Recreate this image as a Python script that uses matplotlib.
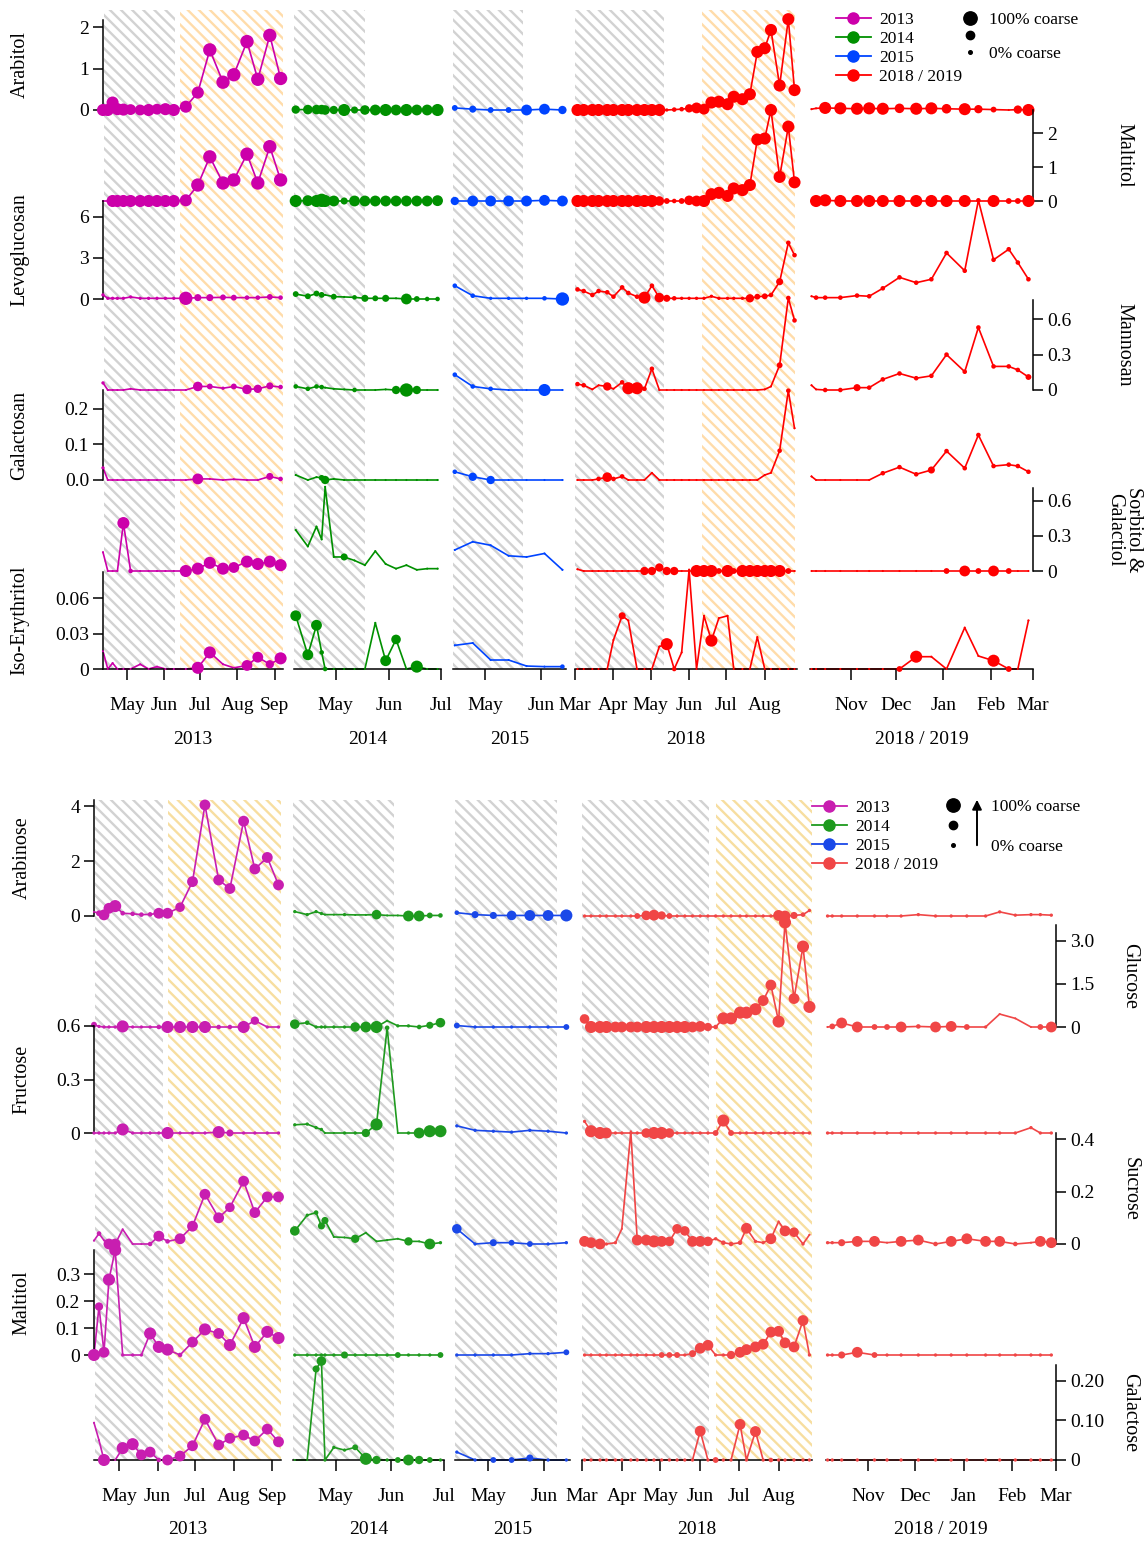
import numpy as np
import matplotlib
matplotlib.use('Agg')
import matplotlib.pyplot as plt
import matplotlib.dates as mdates
from matplotlib.lines import Line2D

plt.rcParams['font.family'] = ['Liberation Serif', 'DejaVu Serif']
plt.rcParams['hatch.linewidth'] = 1.7

W, H = 1147, 1544

# ---------------- sampling dates ----------------
dates = {
    '2013': ['2013-04-11', '2013-04-15', '2013-04-19', '2013-04-23', '2013-04-28', '2013-05-04',
             '2013-05-12', '2013-05-19', '2013-05-26', '2013-06-02', '2013-06-09', '2013-06-19',
             '2013-06-29', '2013-07-09', '2013-07-20', '2013-07-29', '2013-08-09', '2013-08-18',
             '2013-08-28', '2013-09-06'],
    '2014': ['2014-04-08', '2014-04-15', '2014-04-20', '2014-04-23', '2014-04-25', '2014-04-30',
             '2014-05-06', '2014-05-12', '2014-05-18', '2014-05-24', '2014-05-30', '2014-06-05',
             '2014-06-11', '2014-06-17', '2014-06-23', '2014-06-29'],
    '2015': ['2015-04-14', '2015-04-24', '2015-05-04', '2015-05-14', '2015-05-24', '2015-06-03',
             '2015-06-13'],
    '2018': ['2018-03-03', '2018-03-08', '2018-03-15', '2018-03-20', '2018-03-27', '2018-04-01',
             '2018-04-08', '2018-04-13', '2018-04-20', '2018-04-26', '2018-05-02', '2018-05-08',
             '2018-05-14', '2018-05-20', '2018-05-26', '2018-06-01', '2018-06-07', '2018-06-13',
             '2018-06-19', '2018-06-25', '2018-07-02', '2018-07-07', '2018-07-14', '2018-07-20',
             '2018-07-26', '2018-08-01', '2018-08-06', '2018-08-13', '2018-08-20', '2018-08-25'],
    '2019': ['2018-10-06', '2018-10-09', '2018-10-15', '2018-10-25', '2018-11-05', '2018-11-13',
             '2018-11-22', '2018-12-03', '2018-12-14', '2018-12-24', '2019-01-03', '2019-01-15',
             '2019-01-24', '2019-02-03', '2019-02-13', '2019-02-19', '2019-02-26'],
}
xlims = {'2013': ('2013-04-11', '2013-09-08'), '2014': ('2014-04-07', '2014-07-01'),
         '2015': ('2015-04-13', '2015-06-15'), '2018': ('2018-03-01', '2018-08-27'),
         '2019': ('2018-10-05', '2019-03-01')}
year_names = {'2013': '2013', '2014': '2014', '2015': '2015', '2018': '2018', '2019': '2018 / 2019'}

# ---------------- top panel: values (ug/m3) and coarse fraction (0-9) ----------------
arabitol = {
    '2013': [0.0, 0.0, 0.18, 0.02, 0.01, 0.01, 0.0, 0.0, 0.02, 0.02, 0.0, 0.08, 0.42, 1.45, 0.67, 0.85, 1.65, 0.74, 1.8, 0.76],
    '2014': [0.01, 0.01, 0.01, 0.01, 0.0, 0.0, 0.0, 0.0, 0.0, 0.0, 0.0, 0.0, 0.0, 0.0, 0.0, 0.0],
    '2015': [0.05, 0.02, 0.0, 0.0, 0.0, 0.02, 0.0],
    '2018': [0.0, 0.0, 0.0, 0.0, 0.0, 0.0, 0.0, 0.0, 0.0, 0.0, 0.0, 0.0, 0.0, 0.01, 0.02, 0.04, 0.05, 0.02, 0.18, 0.2,
             0.14, 0.32, 0.26, 0.38, 1.4, 1.49, 1.93, 0.59, 2.19, 0.48],
    '2019': [0.02, 0.04, 0.05, 0.04, 0.03, 0.04, 0.03, 0.04, 0.03, 0.04, 0.03, 0.02, 0.02, 0.01, 0.0, 0.01, 0.0],
}
arabitol_c = {
    '2013': [8, 8, 8, 8, 8, 7, 7, 8, 7, 8, 8, 8, 8, 9, 9, 9, 9, 9, 9, 9],
    '2014': [5, 6, 6, 6, 6, 5, 8, 4, 6, 7, 8, 7, 8, 7, 7, 8],
    '2015': [3, 4, 3, 3, 7, 7, 5],
    '2018': [8, 8, 8, 8, 8, 8, 8, 8, 8, 8, 8, 8, 1, 2, 2, 5, 7, 7, 8, 8, 8, 8, 8, 8, 8, 8, 8, 8, 8, 8],
    '2019': [0, 0, 8, 8, 8, 8, 8, 6, 8, 8, 6, 8, 5, 3, 0, 5, 8],
}
maltitol = {
    '2013': [0.0, 0.0, 0.0, 0.0, 0.0, 0.0, 0.0, 0.0, 0.0, 0.0, 0.0, 0.02, 0.47, 1.3, 0.53, 0.62, 1.38, 0.53, 1.6, 0.62],
    '2014': [0.0, 0.01, 0.0, 0.02, 0.0, 0.0, 0.0, 0.0, 0.0, 0.0, 0.0, 0.0, 0.0, 0.0, 0.0, 0.01],
    '2015': [0.0, 0.0, 0.0, 0.0, 0.0, 0.02, 0.0],
    '2018': [0.0, 0.0, 0.0, 0.0, 0.0, 0.0, 0.0, 0.0, 0.0, 0.0, 0.0, 0.0, 0.0, 0.0, 0.0, 0.02, 0.0, 0.0, 0.2, 0.24,
             0.15, 0.37, 0.32, 0.47, 1.81, 1.84, 2.68, 0.71, 2.19, 0.55],
    '2019': [0.0, 0.0, 0.02, 0.0, 0.0, 0.0, 0.0, 0.0, 0.0, 0.0, 0.0, 0.0, 0.0, 0.0, 0.0, 0.0, 0.0],
}
maltitol_c = {
    '2013': [0, 0, 8, 8, 8, 8, 8, 8, 8, 8, 8, 8, 9, 9, 9, 9, 9, 9, 9, 9],
    '2014': [8, 7, 8, 9, 8, 7, 4, 7, 7, 7, 7, 7, 7, 7, 7, 7],
    '2015': [5, 7, 7, 7, 7, 7, 7],
    '2018': [8, 8, 8, 8, 8, 8, 8, 8, 8, 8, 8, 6, 3, 2, 3, 6, 7, 8, 8, 8, 8, 8, 8, 8, 8, 8, 8, 8, 8, 8],
    '2019': [0, 8, 8, 8, 8, 8, 8, 8, 8, 8, 8, 8, 1, 8, 3, 3, 8],
}
levoglucosan = {
    '2013': [0.3, 0.05, 0.05, 0.05, 0.05, 0.15, 0.05, 0.05, 0.05, 0.05, 0.05, 0.05, 0.1, 0.1, 0.12, 0.1, 0.1, 0.1, 0.15, 0.1],
    '2014': [0.36, 0.2, 0.4, 0.3, 0.3, 0.17, 0.15, 0.12, 0.05, 0.05, 0.05, 0.05, 0.0, 0.0, 0.0, 0.0],
    '2015': [0.97, 0.24, 0.05, 0.05, 0.05, 0.05, 0.0],
    '2018': [0.7, 0.58, 0.29, 0.58, 0.49, 0.17, 0.85, 0.44, 0.17, 0.1, 0.97, 0.1, 0.05, 0.05, 0.05, 0.05, 0.05, 0.05,
             0.2, 0.05, 0.05, 0.05, 0.05, 0.05, 0.17, 0.2, 0.29, 1.26, 4.1, 3.2],
    '2019': [0.2, 0.1, 0.1, 0.1, 0.25, 0.2, 0.78, 1.58, 1.19, 1.44, 3.36, 2.06, 7.2, 2.86, 3.63, 2.66, 1.44],
}
levoglucosan_c = {
    '2013': [1, 1, 1, 1, 1, 1, 1, 1, 1, 1, 1, 9, 4, 4, 3, 3, 2, 2, 3, 2],
    '2014': [3, 3, 3, 3, 0, 3, 0, 2, 4, 3, 4, 0, 7, 3, 2, 2],
    '2015': [2, 2, 1, 1, 1, 2, 9],
    '2018': [2, 2, 2, 2, 2, 2, 2, 2, 2, 8, 2, 6, 4, 2, 1, 1, 1, 1, 1, 1, 1, 1, 1, 5, 3, 3, 2, 4, 2, 2],
    '2019': [0, 2, 2, 2, 2, 2, 2, 2, 2, 2, 2, 2, 2, 2, 2, 2, 2],
}
mannosan = {
    '2013': [0.06, 0.0, 0.0, 0.0, 0.0, 0.01, 0.0, 0.0, 0.0, 0.0, 0.0, 0.0, 0.03, 0.03, 0.015, 0.03, 0.005, 0.01, 0.035, 0.025],
    '2014': [0.03, 0.01, 0.03, 0.025, 0.02, 0.01, 0.005, 0.0, 0.0, 0.0, 0.005, 0.0, 0.0, 0.0, 0.0, 0.0],
    '2015': [0.13, 0.03, 0.01, 0.0, 0.0, 0.0, 0.0],
    '2018': [0.05, 0.04, 0.005, 0.04, 0.03, 0.01, 0.065, 0.015, 0.015, 0.01, 0.18, 0.0, 0.0, 0.0, 0.0, 0.0, 0.0, 0.0,
             0.0, 0.0, 0.0, 0.0, 0.0, 0.0, 0.0, 0.005, 0.03, 0.21, 0.78, 0.59],
    '2019': [0.04, 0.005, 0.0, 0.0, 0.02, 0.02, 0.09, 0.14, 0.1, 0.12, 0.3, 0.155, 0.53, 0.2, 0.2, 0.17, 0.11],
}
mannosan_c = {
    '2013': [1, 0, 0, 0, 0, 0, 0, 0, 0, 0, 0, 0, 6, 3, 1, 3, 6, 5, 4, 2],
    '2014': [2, 2, 2, 2, 0, 0, 0, 2, 0, 0, 0, 5, 9, 5, 0, 0],
    '2015': [2, 2, 2, 0, 0, 8, 0],
    '2018': [2, 2, 0, 0, 5, 0, 2, 8, 8, 2, 2, 0, 0, 0, 0, 0, 0, 0, 0, 0, 0, 0, 0, 0, 0, 0, 0, 3, 2, 2],
    '2019': [0, 0, 2, 2, 4, 2, 2, 2, 2, 2, 2, 2, 2, 2, 2, 2, 3],
}
galactosan = {
    '2013': [0.034, 0.0, 0.0, 0.0, 0.0, 0.0, 0.0, 0.0, 0.0, 0.0, 0.0, 0.0, 0.003, 0.003, 0.0, 0.002, 0.0, 0.0, 0.01, 0.003],
    '2014': [0.014, 0.0, 0.008, 0.006, 0.0, 0.003, 0.0, 0.0, 0.0, 0.0, 0.0, 0.0, 0.0, 0.0, 0.0, 0.0],
    '2015': [0.023, 0.009, 0.0, 0.0, 0.0, 0.0, 0.0],
    '2018': [0.0, 0.0, 0.0, 0.003, 0.008, 0.003, 0.01, 0.0, 0.0, 0.0, 0.02, 0.0, 0.0, 0.0, 0.0, 0.0, 0.0, 0.0,
             0.0, 0.0, 0.0, 0.0, 0.0, 0.0, 0.0, 0.014, 0.02, 0.082, 0.25, 0.145],
    '2019': [0.01, 0.0, 0.0, 0.0, 0.0, 0.0, 0.019, 0.036, 0.016, 0.028, 0.081, 0.033, 0.126, 0.039, 0.043, 0.039, 0.023],
}
galactosan_c = {
    '2013': [1, 0, 0, 0, 0, 0, 0, 0, 0, 0, 0, 0, 7, 0, 0, 0, 0, 0, 4, 2],
    '2014': [0, 0, 0, 3, 5, 0, 0, 0, 0, 0, 0, 0, 0, 0, 0, 0],
    '2015': [2, 5, 5, 0, 0, 0, 0],
    '2018': [0, 0, 0, 2, 6, 2, 2, 0, 0, 0, 0, 0, 0, 0, 0, 0, 0, 0, 0, 0, 0, 0, 0, 0, 0, 0, 0, 2, 2, 0],
    '2019': [0, 0, 0, 0, 0, 0, 2, 2, 2, 4, 2, 2, 2, 2, 2, 2, 2],
}
sorbitol = {
    '2013': [0.16, 0.0, 0.0, 0.0, 0.41, 0.0, 0.0, 0.0, 0.0, 0.0, 0.0, 0.0, 0.02, 0.07, 0.02, 0.03, 0.08, 0.06, 0.08, 0.05],
    '2014': [0.35, 0.21, 0.38, 0.27, 0.72, 0.12, 0.12, 0.09, 0.05, 0.17, 0.06, 0.02, 0.05, 0.01, 0.02, 0.02],
    '2015': [0.18, 0.25, 0.22, 0.13, 0.12, 0.15, 0.01],
    '2018': [0.015, 0.0, 0.0, 0.0, 0.0, 0.0, 0.0, 0.0, 0.0, 0.0, 0.0, 0.03, 0.0, 0.0, 0.0, 0.0, 0.0, 0.0,
             0.0, 0.0, 0.0, 0.0, 0.0, 0.0, 0.0, 0.0, 0.0, 0.0, 0.0, 0.0],
    '2019': [0.0, 0.0, 0.0, 0.0, 0.0, 0.0, 0.0, 0.0, 0.0, 0.0, 0.0, 0.0, 0.0, 0.0, 0.0, 0.0, 0.0],
}
sorbitol_c = {
    '2013': [0, 0, 0, 0, 8, 2, 0, 0, 0, 0, 0, 8, 8, 8, 8, 7, 8, 8, 8, 8],
    '2014': [0, 0, 0, 0, 0, 0, 4, 0, 0, 0, 0, 0, 0, 0, 0, 0],
    '2015': [0, 0, 0, 0, 0, 0, 0],
    '2018': [0, 0, 0, 0, 0, 0, 0, 0, 0, 5, 5, 5, 5, 5, 0, 0, 8, 8, 8, 3, 8, 3, 8, 8, 8, 8, 8, 8, 3, 0],
    '2019': [0, 0, 0, 0, 0, 0, 0, 0, 0, 0, 3, 7, 3, 7, 3, 0, 0],
}
erythritol = {
    '2013': [0.015, 0.0, 0.005, 0.0, 0.0, 0.0, 0.004, 0.0, 0.002, 0.0, 0.0, 0.0, 0.001, 0.014, 0.004, 0.001, 0.003, 0.01, 0.004, 0.009],
    '2014': [0.045, 0.012, 0.037, 0.014, 0.0, 0.0, 0.0, 0.0, 0.0, 0.039, 0.007, 0.025, 0.0, 0.002, 0.0, 0.0],
    '2015': [0.02, 0.022, 0.0076, 0.0076, 0.0025, 0.002, 0.002],
    '2018': [0.0, 0.0, 0.0, 0.0, 0.0, 0.0245, 0.045, 0.041, 0.0, 0.0, 0.0, 0.019, 0.021, 0.0, 0.014, 0.084, 0.0, 0.045,
             0.024, 0.043, 0.045, 0.0, 0.0, 0.0, 0.027, 0.0, 0.0, 0.0, 0.0, 0.0],
    '2019': [0.0, 0.0, 0.0, 0.0, 0.0, 0.0, 0.0, 0.0, 0.0104, 0.0104, 0.0, 0.035, 0.011, 0.007, 0.0, 0.0, 0.041],
}
erythritol_c = {
    '2013': [0, 0, 0, 0, 0, 0, 0, 0, 0, 0, 0, 0, 8, 8, 0, 0, 7, 7, 5, 8],
    '2014': [7, 7, 7, 2, 2, 0, 0, 0, 0, 0, 7, 6, 0, 8, 0, 0],
    '2015': [0, 0, 0, 0, 0, 0, 2],
    '2018': [0, 0, 0, 0, 0, 0, 4, 0, 0, 0, 0, 0, 8, 2, 0, 0, 0, 0, 8, 0, 0, 0, 0, 0, 0, 0, 0, 0, 0, 0],
    '2019': [0, 0, 0, 0, 0, 0, 0, 3, 8, 0, 0, 0, 0, 8, 3, 0, 0],
}

# ---------------- bottom panel ----------------
arabinose = {
    '2013': [0.15, 0.1, 0.04, 0.28, 0.36, 0.1, 0.08, 0.05, 0.06, 0.1, 0.1, 0.32, 1.25, 4.04, 1.31, 1.0, 3.45, 1.71, 2.13, 1.13],
    '2014': [0.16, 0.05, 0.16, 0.09, 0.05, 0.05, 0.05, 0.04, 0.04, 0.05, 0.02, 0.02, 0.0, 0.0, 0.02, 0.02],
    '2015': [0.12, 0.05, 0.02, 0.02, 0.02, 0.02, 0.02],
    '2018': [0.0, 0.0, 0.0, 0.0, 0.0, 0.0, 0.0, 0.0, 0.02, 0.03, 0.02, 0.0, 0.0, 0.0, 0.0, 0.0, 0.0, 0.0,
             0.0, 0.0, 0.0, 0.0, 0.0, 0.0, 0.0, 0.02, 0.0, 0.02, 0.05, 0.2],
    '2019': [0.0, 0.0, 0.0, 0.0, 0.0, 0.0, 0.0, 0.05, 0.0, 0.0, 0.0, 0.0, 0.15, 0.03, 0.05, 0.05, 0.03],
}
arabinose_c = {
    '2013': [0, 3, 7, 7, 8, 2, 2, 2, 2, 7, 7, 6, 7, 7, 7, 7, 7, 7, 7, 7],
    '2014': [1, 1, 1, 1, 0, 0, 1, 0, 0, 6, 0, 0, 7, 7, 3, 2],
    '2015': [2, 4, 4, 6, 7, 7, 8],
    '2018': [1, 1, 1, 1, 1, 1, 1, 3, 6, 7, 5, 3, 1, 1, 1, 1, 1, 1, 1, 1, 1, 1, 1, 1, 1, 7, 7, 4, 2, 1],
    '2019': [1, 1, 1, 1, 1, 1, 1, 1, 1, 1, 1, 1, 1, 1, 1, 1, 1],
}
glucose = {
    '2013': [0.08, 0.02, 0.0, 0.0, 0.0, 0.02, 0.0, 0.0, 0.0, 0.0, 0.0, 0.0, 0.0, 0.0, 0.0, 0.0, 0.0, 0.22, 0.0, 0.0],
    '2014': [0.1, 0.15, 0.0, 0.0, 0.0, 0.0, 0.0, 0.0, 0.0, 0.0, 0.22, 0.04, 0.04, 0.0, 0.06, 0.15],
    '2015': [0.05, 0.0, 0.0, 0.0, 0.0, 0.0, 0.0],
    '2018': [0.28, 0.0, 0.0, 0.0, 0.0, 0.0, 0.0, 0.0, 0.0, 0.0, 0.0, 0.0, 0.0, 0.0, 0.0, 0.02, 0.0, 0.0,
             0.3, 0.3, 0.5, 0.5, 0.62, 0.92, 1.46, 0.19, 3.64, 0.99, 2.8, 0.7],
    '2019': [0.0, 0.02, 0.14, 0.0, 0.0, 0.0, 0.0, 0.02, 0.0, 0.02, 0.0, 0.0, 0.45, 0.3, 0.0, 0.0, 0.0],
}
glucose_c = {
    '2013': [3, 1, 1, 1, 1, 8, 1, 1, 1, 2, 8, 8, 8, 8, 2, 2, 8, 5, 1, 1],
    '2014': [6, 2, 1, 1, 1, 1, 1, 6, 7, 8, 0, 1, 1, 2, 4, 6],
    '2015': [3, 1, 1, 1, 1, 1, 3],
    '2018': [6, 8, 8, 8, 7, 7, 7, 7, 8, 8, 8, 8, 8, 8, 7, 7, 5, 2, 8, 8, 8, 8, 8, 7, 7, 8, 8, 7, 8, 8],
    '2019': [0, 3, 7, 7, 3, 3, 7, 2, 7, 7, 3, 1, 0, 0, 0, 3, 7],
}
fructose = {
    '2013': [0.0, 0.0, 0.0, 0.0, 0.0, 0.02, 0.0, 0.0, 0.0, 0.0, 0.0, 0.0, 0.0, 0.0, 0.005, 0.0, 0.0, 0.0, 0.0, 0.0],
    '2014': [0.046, 0.05, 0.03, 0.02, 0.0, 0.0, 0.0, 0.0, 0.0, 0.048, 0.59, 0.0, 0.0, 0.0, 0.01, 0.01],
    '2015': [0.04, 0.015, 0.01, 0.005, 0.015, 0.01, 0.0],
    '2018': [0.065, 0.01, 0.0, 0.0, 0.0, 0.0, 0.0, 0.0, 0.0, 0.0, 0.0, 0.0, 0.0, 0.0, 0.0, 0.0, 0.0, 0.0,
             0.07, 0.0, 0.0, 0.0, 0.0, 0.0, 0.0, 0.0, 0.0, 0.0, 0.0, 0.0],
    '2019': [0.0, 0.0, 0.0, 0.0, 0.0, 0.0, 0.0, 0.0, 0.0, 0.0, 0.0, 0.0, 0.0, 0.0, 0.03, 0.0, 0.0],
}
fructose_c = {
    '2013': [1, 1, 1, 1, 1, 8, 1, 1, 1, 1, 8, 1, 1, 1, 8, 4, 1, 1, 1, 1],
    '2014': [1, 1, 1, 1, 0, 0, 1, 1, 5, 8, 2, 0, 1, 7, 8, 8],
    '2015': [1, 1, 1, 1, 1, 1, 1],
    '2018': [1, 8, 8, 7, 1, 1, 1, 1, 6, 8, 8, 6, 1, 1, 1, 1, 1, 3, 8, 3, 1, 1, 1, 1, 1, 1, 1, 1, 1, 1],
    '2019': [1, 1, 1, 1, 1, 1, 1, 1, 1, 1, 1, 1, 1, 1, 1, 1, 1],
}
sucrose = {
    '2013': [0.013, 0.04, 0.014, 0.0, 0.0, 0.056, 0.0, 0.0, 0.0, 0.03, 0.01, 0.02, 0.068, 0.19, 0.1, 0.14, 0.24, 0.12, 0.18, 0.18],
    '2014': [0.05, 0.11, 0.12, 0.069, 0.09, 0.027, 0.025, 0.02, 0.043, 0.01, 0.015, 0.02, 0.01, 0.01, 0.0, 0.005],
    '2015': [0.058, 0.0, 0.005, 0.005, 0.0, 0.0, 0.005],
    '2018': [0.01, 0.005, 0.0, 0.0, 0.005, 0.058, 0.43, 0.015, 0.015, 0.01, 0.01, 0.01, 0.058, 0.05, 0.01, 0.01, 0.01, 0.02,
             0.005, 0.0, 0.005, 0.06, 0.01, 0.005, 0.02, 0.086, 0.05, 0.045, 0.0, 0.035],
    '2019': [0.005, 0.005, 0.005, 0.01, 0.01, 0.005, 0.01, 0.015, 0.0, 0.01, 0.02, 0.01, 0.01, 0.0, 0.005, 0.01, 0.005],
}
sucrose_c = {
    '2013': [0, 2, 0, 7, 7, 0, 0, 0, 2, 7, 2, 7, 7, 7, 7, 6, 7, 7, 7, 7],
    '2014': [6, 1, 2, 4, 4, 0, 0, 5, 0, 0, 0, 0, 5, 0, 7, 1],
    '2015': [6, 1, 4, 3, 3, 1, 1],
    '2018': [7, 7, 7, 1, 1, 0, 0, 7, 7, 8, 7, 6, 6, 6, 7, 7, 6, 1, 2, 2, 2, 7, 1, 1, 7, 0, 7, 6, 1, 0],
    '2019': [1, 1, 4, 7, 7, 0, 7, 7, 2, 7, 7, 7, 7, 2, 0, 7, 7],
}
maltitol_b = {
    '2013': [0.0, 0.18, 0.01, 0.28, 0.39, 0.0, 0.0, 0.0, 0.08, 0.03, 0.02, 0.0, 0.048, 0.095, 0.08, 0.037, 0.137, 0.03, 0.086, 0.063],
    '2014': [0.0, 0.0, 0.0, 0.0, 0.0, 0.0, 0.0, 0.0, 0.0, 0.0, 0.0, 0.0, 0.0, 0.0, 0.0, 0.0],
    '2015': [0.0, 0.0, 0.0, 0.0, 0.005, 0.005, 0.01],
    '2018': [0.0, 0.0, 0.0, 0.0, 0.0, 0.0, 0.0, 0.0, 0.0, 0.0, 0.0, 0.0, 0.0, 0.0, 0.005, 0.025, 0.036, 0.0,
             0.0, 0.0, 0.01, 0.02, 0.03, 0.04, 0.085, 0.088, 0.045, 0.03, 0.128, 0.0],
    '2019': [0.0, 0.0, 0.0, 0.01, 0.0, 0.0, 0.0, 0.0, 0.0, 0.0, 0.0, 0.0, 0.0, 0.0, 0.0, 0.0, 0.0],
}
maltitol_b_c = {
    '2013': [8, 5, 7, 8, 8, 1, 1, 1, 8, 8, 8, 2, 7, 8, 7, 8, 8, 8, 8, 8],
    '2014': [1, 1, 1, 1, 1, 1, 4, 1, 1, 1, 1, 3, 1, 1, 1, 3],
    '2015': [1, 1, 1, 1, 1, 1, 3],
    '2018': [1, 1, 1, 1, 1, 1, 1, 1, 1, 1, 3, 3, 3, 1, 4, 7, 7, 1, 1, 5, 7, 7, 7, 7, 7, 7, 7, 7, 7, 1],
    '2019': [1, 1, 4, 7, 3, 1, 1, 1, 1, 1, 1, 1, 1, 1, 1, 1, 1],
}
galactose = {
    '2013': [0.094, 0.05, 0.0, 0.0, 0.0, 0.03, 0.04, 0.013, 0.02, 0.0, 0.0, 0.01, 0.036, 0.103, 0.038, 0.055, 0.063, 0.048, 0.078, 0.046],
    '2014': [0.0, 0.0, 0.23, 0.25, 0.0, 0.032, 0.025, 0.032, 0.003, 0.0, 0.0, 0.0, 0.0, 0.0, 0.0, 0.0],
    '2015': [0.02, 0.0, 0.0, 0.0, 0.005, 0.0, 0.0],
    '2018': [0.0, 0.0, 0.0, 0.0, 0.0, 0.0, 0.0, 0.0, 0.0, 0.0, 0.0, 0.0, 0.0, 0.0, 0.0, 0.073, 0.0, 0.0,
             0.0, 0.0, 0.09, 0.0, 0.072, 0.0, 0.0, 0.0, 0.0, 0.0, 0.0, 0.0],
    '2019': [0.0, 0.0, 0.0, 0.0, 0.0, 0.0, 0.0, 0.0, 0.0, 0.0, 0.0, 0.0, 0.0, 0.0, 0.0, 0.0, 0.0],
}
galactose_c = {
    '2013': [0, 0, 8, 0, 0, 8, 8, 7, 7, 2, 7, 7, 7, 7, 7, 7, 7, 7, 7, 7],
    '2014': [0, 0, 4, 6, 1, 1, 1, 3, 8, 5, 1, 3, 7, 5, 3, 1],
    '2015': [1, 1, 3, 3, 4, 1, 1],
    '2018': [1, 1, 1, 1, 1, 1, 1, 1, 1, 1, 1, 1, 1, 1, 1, 7, 1, 3, 1, 1, 7, 1, 7, 1, 2, 1, 1, 1, 1, 1],
    '2019': [1, 1, 1, 1, 1, 1, 1, 1, 1, 1, 1, 1, 1, 1, 1, 1, 1],
}

# ---------------- layout (pixels) ----------------
top_colors = {'2013': '#cc00aa', '2014': '#009000', '2015': '#0044ff', '2018': '#ff0000', '2019': '#ff0000'}
bot_colors = {'2013': '#c81eb0', '2014': '#1e9a1e', '2015': '#1a48e8', '2018': '#f04646', '2019': '#f04646'}
GRAY, ORANGE, ORANGE_B = '#d2d2d2', '#ffdcaa', '#f7dea0'

top_cols = [('2013', 103, 283), ('2014', 294, 441), ('2015', 453, 566), ('2018', 575, 797), ('2019', 810, 1033)]
bot_cols = [('2013', 94, 281), ('2014', 293, 444), ('2015', 455, 570), ('2018', 582, 812), ('2019', 826, 1056)]

top_shade = {'2013': [('2013-04-12', '2013-06-10', GRAY), ('2013-06-14', '2013-09-08', ORANGE)],
             '2014': [('2014-04-07', '2014-05-18', GRAY)],
             '2015': [('2015-04-13', '2015-05-22', GRAY)],
             '2018': [('2018-03-01', '2018-05-12', GRAY), ('2018-06-11', '2018-08-25', ORANGE)]}
bot_shade = {'2013': [('2013-04-12', '2013-06-05', GRAY), ('2013-06-09', '2013-09-08', ORANGE_B)],
             '2014': [('2014-04-07', '2014-06-03', GRAY)],
             '2015': [('2015-04-13', '2015-06-08', GRAY)],
             '2018': [('2018-03-01', '2018-06-08', GRAY), ('2018-06-13', '2018-08-27', ORANGE_B)]}

# name, values, coarse, side, axis top px, zero px, ymax, ticks, tick labels
top_traces = [
    ('Arabitol', arabitol, arabitol_c, 'left', 20, 110, 2.17, [0, 1, 2], ['0', '1', '2']),
    ('Maltitol', maltitol, maltitol_c, 'right', 110, 201, 2.68, [0, 1, 2], ['0', '1', '2']),
    ('Levoglucosan', levoglucosan, levoglucosan_c, 'left', 201, 299, 7.15, [0, 3, 6], ['0', '3', '6']),
    ('Mannosan', mannosan, mannosan_c, 'right', 300, 390, 0.763, [0, 0.3, 0.6], ['0', '0.3', '0.6']),
    ('Galactosan', galactosan, galactosan_c, 'left', 390, 480, 0.252, [0, 0.1, 0.2], ['0.0', '0.1', '0.2']),
    ('Sorbitol &\nGalactiol', sorbitol, sorbitol_c, 'right', 488, 571, 0.71, [0, 0.3, 0.6], ['0', '0.3', '0.6']),
    ('Iso-Erythritol', erythritol, erythritol_c, 'left', 572, 669, 0.082, [0, 0.03, 0.06], ['0', '0.03', '0.06']),
]
bot_traces = [
    ('Arabinose', arabinose, arabinose_c, 'left', 800, 916, 4.22, [0, 2, 4], ['0', '2', '4']),
    ('Glucose', glucose, glucose_c, 'right', 925, 1027, 3.55, [0, 1.5, 3.0], ['0', '1.5', '3.0']),
    ('Fructose', fructose, fructose_c, 'left', 1026, 1133, 0.6, [0, 0.3, 0.6], ['0', '0.3', '0.6']),
    ('Sucrose', sucrose, sucrose_c, 'right', 1133, 1244, 0.424, [0, 0.2, 0.4], ['0', '0.2', '0.4']),
    ('Maltitol', maltitol_b, maltitol_b_c, 'left', 1250, 1355, 0.39, [0, 0.1, 0.2, 0.3], ['0', '0.1', '0.2', '0.3']),
    ('Galactose', galactose, galactose_c, 'right', 1365, 1460, 0.24, [0, 0.1, 0.2], ['0', '0.10', '0.20']),
]

FS = 14


def rect(x0, x1, ytop, ybot):
    return [x0 / W, 1 - ybot / H, (x1 - x0) / W, (ybot - ytop) / H]


def msize(c):
    return 1.5 + 0.9 * c


def draw_panel(fig, traces, cols, shade, colors, ytop, ybase, ylab_left, ylab_right, year_y):
    for key, x0, x1 in cols:
        lo, hi = np.datetime64(xlims[key][0]), np.datetime64(xlims[key][1])
        bg = fig.add_axes(rect(x0, x1, ytop, ybase), zorder=0)
        bg.set_xlim(lo, hi)
        bg.axis('off')
        for a, b, c in shade.get(key, []):
            bg.axvspan(np.datetime64(a), np.datetime64(b), facecolor='white', edgecolor=c,
                       hatch='\\\\\\', linewidth=0)
        fig.text((x0 + x1) / 2 / W, 1 - year_y / H, year_names[key], ha='center', va='center', fontsize=FS)

    for ti, (name, vals, coarse, side, ay0, ay1, ymax, ticks, tlabels) in enumerate(traces):
        last = ti == len(traces) - 1
        for ci, (key, x0, x1) in enumerate(cols):
            ax = fig.add_axes(rect(x0, x1, ay0, ay1), zorder=2 + ti)
            ax.set_facecolor('none')
            ax.set_xlim(np.datetime64(xlims[key][0]), np.datetime64(xlims[key][1]))
            ax.set_ylim(0, ymax)
            for s in ax.spines.values():
                s.set_visible(False)
            x = np.array(dates[key], dtype='datetime64[D]')
            y = np.array(vals[key])
            ms = np.array([msize(c) for c in coarse[key]]) ** 2
            ax.plot(x, y, '-', color=colors[key], lw=1.2, clip_on=False, zorder=2)
            ax.scatter(x, y, s=ms, color=colors[key], edgecolors='none', clip_on=False, zorder=3)

            ax.tick_params(axis='y', direction='out', length=7, width=1.1, labelsize=FS, pad=3)
            if side == 'left' and ci == 0:
                ax.spines['left'].set_visible(True)
                ax.spines['left'].set_linewidth(1.1)
                ax.set_yticks(ticks)
                ax.set_yticklabels(tlabels)
            elif side == 'right' and ci == len(cols) - 1:
                ax.spines['right'].set_visible(True)
                ax.spines['right'].set_linewidth(1.1)
                ax.yaxis.set_ticks_position('right')
                ax.set_yticks(ticks)
                ax.set_yticklabels(tlabels)
            else:
                ax.set_yticks([])

            if last:
                ax.spines['bottom'].set_visible(True)
                ax.spines['bottom'].set_linewidth(1.1)
                ax.xaxis.set_major_locator(mdates.MonthLocator())
                ax.xaxis.set_major_formatter(mdates.DateFormatter('%b'))
                ax.tick_params(axis='x', direction='out', length=8, width=1.1, labelsize=FS, pad=12)
            else:
                ax.set_xticks([])

        ymid = 1 - (ay0 + ay1) / 2 / H
        if side == 'left':
            fig.text(ylab_left / W, ymid, name, rotation=90, ha='center', va='center', fontsize=14.5)
        else:
            fig.text(ylab_right / W, ymid, name, rotation=270, ha='center', va='center', fontsize=14.5,
                     multialignment='center', linespacing=1.0)


fig = plt.figure(figsize=(W / 100, H / 100), dpi=100)

draw_panel(fig, top_traces, top_cols, top_shade, top_colors, 10, 669, 20, 1124, 740)
draw_panel(fig, bot_traces, bot_cols, bot_shade, bot_colors, 800, 1460, 22, 1130, 1530)

# legends
season_labels = ['2013', '2014', '2015', '2018 / 2019']
for colors, (lx, ly), (sx, sy), lsp, sp in [(top_colors, (836, 12), (960, 12), 0.17, 0.05),
                                             (bot_colors, (812, 800), (943, 799), 0.17, 0.22)]:
    handles = [Line2D([], [], color=colors[k], marker='o', ms=8, lw=1.3) for k in ['2013', '2014', '2015', '2018']]
    fig.legend(handles, season_labels, loc='upper left', bbox_to_anchor=(lx / W, 1 - ly / H), frameon=False,
               fontsize=12.5, handlelength=2.0, handletextpad=0.5, labelspacing=lsp, borderpad=0,
               borderaxespad=0)
    size_handles = [Line2D([], [], color='k', marker='o', ls='none', ms=m) for m in (msize(9), msize(5), msize(1.2))]
    fig.legend(size_handles, ['100% coarse', ' ', '0% coarse'], loc='upper left',
               bbox_to_anchor=(sx / W, 1 - sy / H), frameon=False, fontsize=12.5, handlelength=1.2,
               handletextpad=0.45 if ly < 100 else 1.55, labelspacing=sp, borderpad=0, borderaxespad=0)

fig.add_artist(matplotlib.patches.FancyArrowPatch((977 / W, 1 - 848 / H), (977 / W, 1 - 797 / H),
                                                  transform=fig.transFigure, arrowstyle='-|>',
                                                  mutation_scale=14, color='k', lw=1.4))

fig.savefig('out.png', dpi=100)
